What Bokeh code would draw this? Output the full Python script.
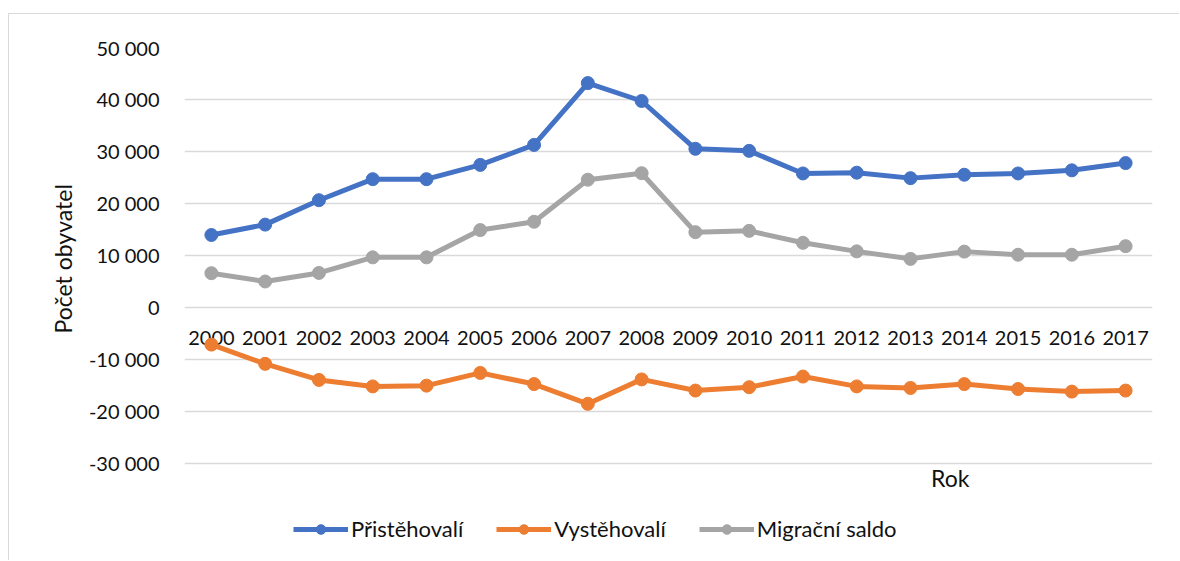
from bokeh.plotting import figure
from bokeh.models import (FactorRange, Range1d, Legend, LegendItem, Label, Title,
                          CustomJSTickFormatter, FixedTicker, ColumnDataSource)
from bokeh.core.properties import value
from bokeh.embed import file_html
from bokeh.resources import INLINE

years = [str(y) for y in range(2000, 2018)]
pristehovali = [13900, 15900, 20600, 24650, 24650, 27400, 31250, 43150, 39700, 30500,
                30100, 25750, 25900, 24850, 25500, 25750, 26350, 27750]
vystehovali = [-7200, -10900, -14000, -15250, -15100, -12650, -14800, -18600, -13900, -16050,
               -15400, -13350, -15250, -15550, -14800, -15750, -16250, -16050]
saldo = [6550, 4950, 6600, 9600, 9600, 14850, 16450, 24550, 25800, 14450,
         14700, 12400, 10750, 9300, 10700, 10100, 10100, 11750]
y_ticks = [-30000, -20000, -10000, 0, 10000, 20000, 30000, 40000, 50000]

series = [("Přistěhovalí", pristehovali, "#4472C4"),
          ("Vystěhovalí", vystehovali, "#ED7D31"),
          ("Migrační saldo", saldo, "#A5A5A5")]

FONT = "Lato"
TXT = "#111111"

# frame runs to the bottom of the canvas so legend / "Rok" can sit inside it
p = figure(width=1171, height=547,
           x_range=FactorRange(*years, range_padding=0),
           y_range=Range1d(-48960, 50000),
           output_backend="svg", toolbar_location=None,
           x_axis_location=None,
           min_border_left=175, min_border_right=28, min_border_top=33, min_border_bottom=0,
           outline_line_color=None, border_fill_color="white")
p.styles = {"border-left": "1px solid #d9d9d9", "border-top": "1px solid #d9d9d9",
            "margin-left": "8px", "margin-top": "13px"}

ya = p.yaxis[0]
ya.ticker = FixedTicker(ticks=y_ticks)
ya.formatter = CustomJSTickFormatter(code="return tick.toLocaleString('en-US').replace(/,/g, ' ');")
ya.axis_line_color = None
ya.major_tick_line_color = None
ya.minor_tick_line_color = None
ya.major_tick_out = 0
ya.major_label_standoff = 25
ya.major_label_text_font = FONT
ya.major_label_text_font_size = "20px"
ya.major_label_text_color = TXT

p.add_layout(Title(text="Počet obyvatel", align="left", offset=228, standoff=17,
                   text_font=FONT, text_font_size="23px", text_font_style="normal",
                   text_color=TXT), "left")

p.ygrid.grid_line_color = "#d9d9d9"
p.ygrid.grid_line_width = 1.3
p.xgrid.grid_line_color = None

# category labels on the zero line (the category axis crosses at 0)
lab_src = ColumnDataSource(dict(x=years, y=[0] * len(years), t=years))
p.text("x", "y", text="t", source=lab_src, text_align="center", text_baseline="middle",
       y_offset=31, text_font=value(FONT), text_font_size="20px", text_color=TXT)

items = []
for name, vals, col in series:
    src = ColumnDataSource(dict(x=years, y=vals))
    l = p.line("x", "y", source=src, line_color=col, line_width=5)
    s = p.scatter("x", "y", source=src, size=13, fill_color=col, line_color=col)
    items.append(LegendItem(label=name, renderers=[l, s]))

legend = Legend(items=items, orientation="horizontal", location=(109, 19),
                label_text_font=FONT, label_text_font_size="22px", label_text_color=TXT,
                glyph_width=55, glyph_height=24, spacing=33, label_standoff=3,
                border_line_color=None, background_fill_alpha=0, padding=0, margin=0)
p.add_layout(legend, "center")

p.add_layout(Label(x=14.24, y=-32790, text="Rok", text_align="center", text_baseline="middle",
                   text_font=FONT, text_font_size="23px", text_color=TXT))

open("out.html", "w").write(file_html(p, INLINE))
